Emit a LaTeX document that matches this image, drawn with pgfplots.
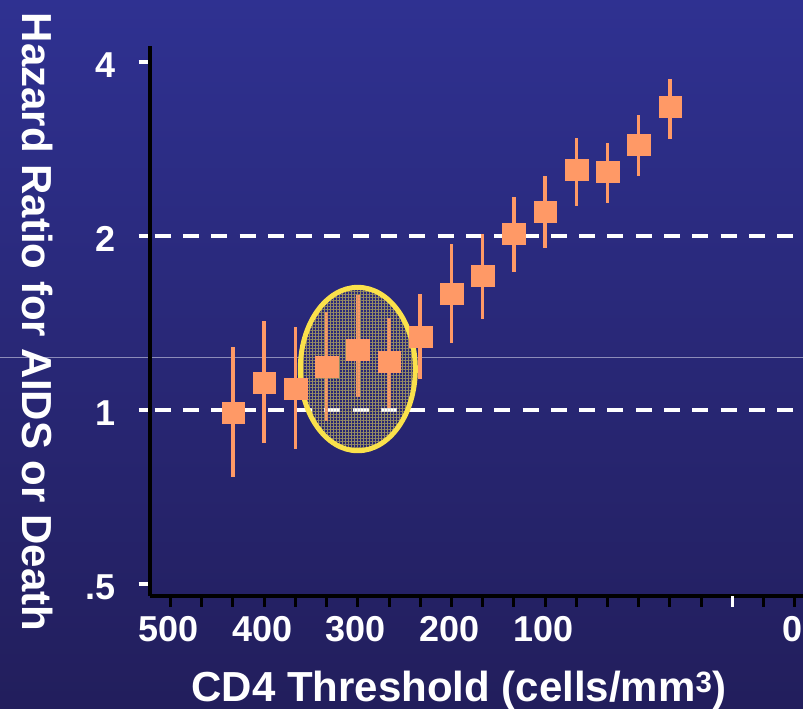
\documentclass[border=0pt]{standalone}
\usepackage{pgfplots}
\pgfplotsset{compat=1.18}
\usepackage{pgfplotstable}
\usepackage{fontspec}
\setmainfont{Liberation Sans}
\usetikzlibrary{patterns.meta}

\definecolor{slidetop}{RGB}{47,49,145}
\definecolor{slidebottom}{RGB}{34,30,92}
\definecolor{hrorange}{RGB}{255,153,102}
\definecolor{ringyellow}{RGB}{250,225,75}
\definecolor{hatchtan}{RGB}{150,140,100}
\definecolor{seam}{RGB}{140,140,185}

% hazard ratio with 95% CI by CD4 threshold
\pgfplotstableread{
cd4 hr    lo    hi
450 0.989 0.765 1.284
425 1.118 0.876 1.425
400 1.091 0.855 1.390
375 1.191 0.957 1.478
350 1.274 1.054 1.579
325 1.213 1.007 1.441
300 1.338 1.130 1.585
275 1.592 1.304 1.937
250 1.712 1.437 2.016
225 2.022 1.735 2.336
200 2.208 1.909 2.543
175 2.607 2.257 2.955
150 2.589 2.281 2.893
125 2.876 2.543 3.235
100 3.346 2.943 3.734
}\hrdata

\begin{document}
\begin{tikzpicture}
\useasboundingbox (0,0) rectangle (803bp,709bp);
\clip (0,0) rectangle (803bp,709bp);
\shade[top color=slidetop, bottom color=slidebottom] (0,0) rectangle (803bp,709bp);
\draw[seam, line width=0.8bp] (0,352bp) -- (803bp,352bp);

\begin{axis}[
  at={(149.7bp,113bp)}, anchor=south west,
  scale only axis, width=680.3bp, height=550bp,
  x dir=reverse, xmin=-28.2, xmax=516.7,
  ymode=log, ymin=0.4768, ymax=4.264,
  axis x line*=bottom, axis y line*=left,
  axis line style={-, black, line width=4bp},
  tick align=outside,
  major tick length=11bp, minor tick length=11bp,
  xtick={500,425,350,275,200,0},
  xticklabels={500,400,300,200,100,0},
  minor xtick={475,450,400,375,325,300,250,225,175,150,125,100,75,25},
  extra x ticks={50}, extra x tick labels={},
  extra x tick style={x tick style={white}},
  x tick style={black, line width=3bp},
  ytick={0.5,1,2,4}, yticklabels={.5,1,2,4},
  y tick style={white, line width=4bp},
  ticklabel style={font=\fontsize{36bp}{36bp}\selectfont\bfseries, text=white},
  xticklabel style={anchor=base, inner sep=0pt, yshift=-35bp, xshift=-2bp},
  yticklabel style={anchor=base east, inner sep=0pt, xshift=-23bp, yshift=-15bp},
]
% shaded ring behind the 300-375 estimates
\fill[pattern={Hatch[angle=0, distance=3bp, line width=1bp]}, pattern color=hatchtan]
  (axis cs:350,1.1775) ellipse [x radius=57.5bp, y radius=81.7bp];

% reference lines at HR = 1 and 2
\addplot[white, line width=3.5bp, dash pattern=on 16bp off 12.3bp, dash phase=23.3bp]
  coordinates {(516.7,1) (-28.2,1)};
\addplot[white, line width=3.5bp, dash pattern=on 16bp off 12.3bp, dash phase=23.3bp]
  coordinates {(516.7,2) (-28.2,2)};

\addplot[only marks, hrorange, mark=square*, mark size=10.5bp,
  mark options={xscale=1.08, fill=hrorange, draw=hrorange, line width=0.1bp},
  error bars/.cd, y dir=both, y explicit, error mark=none,
  error bar style={line width=3.5bp, hrorange}]
  table[x=cd4, y=hr,
        y error plus expr=\thisrow{hi}-\thisrow{hr},
        y error minus expr=\thisrow{hr}-\thisrow{lo}] {\hrdata};

\fill[pattern={Hatch[angle=0, distance=3bp, line width=1bp]}, pattern color=hatchtan, opacity=0.3]
  (axis cs:350,1.1775) ellipse [x radius=57.5bp, y radius=81.7bp];
\draw[ringyellow, line width=5bp]
  (axis cs:350,1.1775) ellipse [x radius=57.5bp, y radius=81.7bp];
\end{axis}

\node[rotate=-90, inner sep=0pt, text=white,
  font=\fontsize{42bp}{42bp}\selectfont\bfseries] at (38bp,387bp)
  {Hazard Ratio for AIDS or Death};
\node[anchor=base, inner sep=0pt, text=white,
  font=\fontsize{42bp}{42bp}\selectfont\bfseries] at (459bp,8bp)
  {CD4 Threshold (cells/mm\textsuperscript{3})};
\end{tikzpicture}
\end{document}
